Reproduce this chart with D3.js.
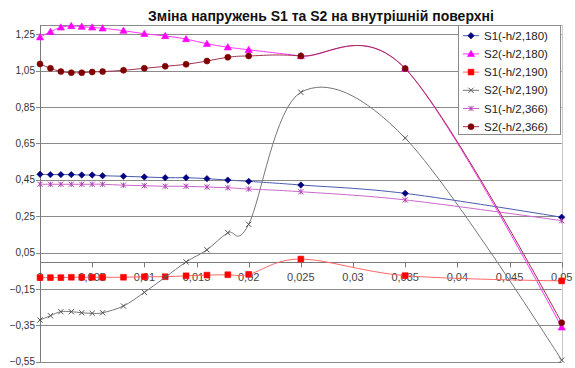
<!DOCTYPE html>
<html><head><meta charset="utf-8">
<script src="https://cdn.jsdelivr.net/npm/d3@7"></script>
<style>body{margin:0;background:#fff}svg{display:block}</style>
</head><body>
<script>
const xValues = [0, 0.001, 0.002, 0.003, 0.004, 0.005, 0.006, 0.008, 0.010, 0.012, 0.014, 0.016, 0.018, 0.020, 0.025, 0.035, 0.050];
const s1_180 = [0.481, 0.479, 0.479, 0.479, 0.477, 0.477, 0.473, 0.470, 0.466, 0.462, 0.462, 0.457, 0.449, 0.442, 0.422, 0.376, 0.245];
const s2_180 = [1.234, 1.264, 1.288, 1.296, 1.292, 1.288, 1.283, 1.270, 1.253, 1.241, 1.224, 1.198, 1.179, 1.165, 1.131, 1.062, -0.360];
const s1_190 = [-0.087, -0.087, -0.087, -0.085, -0.085, -0.085, -0.085, -0.085, -0.082, -0.082, -0.077, -0.073, -0.071, -0.069, 0.015, -0.076, -0.105];
const s2_190 = [-0.320, -0.296, -0.274, -0.274, -0.280, -0.283, -0.280, -0.243, -0.168, -0.085, -0.001, 0.066, 0.160, 0.206, 0.931, 0.680, -0.540];
const s1_366 = [0.426, 0.426, 0.426, 0.426, 0.426, 0.426, 0.426, 0.421, 0.418, 0.415, 0.415, 0.411, 0.407, 0.400, 0.385, 0.340, 0.226];
const s2_366 = [1.087, 1.063, 1.045, 1.039, 1.039, 1.043, 1.045, 1.052, 1.063, 1.074, 1.085, 1.103, 1.124, 1.131, 1.131, 1.062, -0.335];
const seriesNames = ["S1(-h/2,180)", "S2(-h/2,180)", "S1(-h/2,190)", "S2(-h/2,190)", "S1(-h/2,366)", "S2(-h/2,366)"];
const xTicks = [0, 0.005, 0.01, 0.015, 0.02, 0.025, 0.03, 0.035, 0.04, 0.045, 0.05];
const yTicks = [1.25, 1.05, 0.85, 0.65, 0.45, 0.25, 0.05, -0.15, -0.35, -0.55];
const title = "Зміна напружень S1 та S2 на внутрішній поверхні";

const series = [
  {name: seriesNames[0], values: s1_180, line: "#4a5ab0", mark: "#000080", marker: "diamond"},
  {name: seriesNames[1], values: s2_180, line: "#ff33ff", mark: "#ff00ff", marker: "triangle"},
  {name: seriesNames[2], values: s1_190, line: "#ff6666", mark: "#ff0000", marker: "square"},
  {name: seriesNames[3], values: s2_190, line: "#777777", mark: "#555555", marker: "x"},
  {name: seriesNames[4], values: s1_366, line: "#cc66cc", mark: "#b040b0", marker: "star"},
  {name: seriesNames[5], values: s2_366, line: "#a03050", mark: "#800000", marker: "circle"}
];

const W = 575, H = 368;
const svg = d3.select("body").append("svg").attr("width", W).attr("height", H)
  .style("font-family", "Arial, 'Liberation Sans', sans-serif");

const x = d3.scaleLinear().domain([0, 0.05]).range([40, 561.7]);
const y = d3.scaleLinear().domain([-0.55, 1.3]).range([361.9, 25.2]);
const fmt = v => (v === 0 ? "0" : d3.format("")(+v.toFixed(3))).replace(".", ",");

// gridlines
svg.append("g").selectAll("line").data(yTicks).join("line")
  .attr("x1", x(0) - 4).attr("x2", x(0.05))
  .attr("y1", d => Math.round(y(d)) + 0.5).attr("y2", d => Math.round(y(d)) + 0.5)
  .attr("stroke", "#8a8a8a").attr("stroke-width", 1);
// plot border top/right
svg.append("line").attr("x1", x(0)).attr("x2", x(0.05)).attr("y1", Math.round(y(1.3)) + 0.5).attr("y2", Math.round(y(1.3)) + 0.5).attr("stroke", "#8a8a8a");
svg.append("line").attr("x1", Math.round(x(0.05)) + 0.5).attr("x2", Math.round(x(0.05)) + 0.5).attr("y1", y(1.3)).attr("y2", y(-0.55)).attr("stroke", "#c8c8c8");
// y axis
svg.append("line").attr("x1", Math.round(x(0)) + 0.5).attr("x2", Math.round(x(0)) + 0.5).attr("y1", y(1.3)).attr("y2", y(-0.55)).attr("stroke", "#7a7a7a");
svg.append("g").selectAll("text").data(yTicks).join("text")
  .attr("x", 35).attr("y", d => y(d)).attr("dy", "0.35em").attr("text-anchor", "end")
  .attr("font-size", 10).attr("fill", "#333").text(d => fmt(d));
// x axis at 0
const y0 = Math.round(y(0)) + 0.5;
svg.append("line").attr("x1", x(0)).attr("x2", x(0.05)).attr("y1", y0).attr("y2", y0).attr("stroke", "#7a7a7a");
svg.append("g").selectAll("line").data(xTicks).join("line")
  .attr("x1", d => Math.round(x(d)) + 0.5).attr("x2", d => Math.round(x(d)) + 0.5)
  .attr("y1", y0).attr("y2", y0 + 5).attr("stroke", "#7a7a7a");
svg.append("g").selectAll("text").data(xTicks).join("text")
  .attr("x", d => x(d)).attr("y", y0 + 15).attr("dy", "0.35em").attr("text-anchor", "middle")
  .attr("font-size", 11).attr("fill", "#444").text(d => fmt(d));

function markerPath(type, r) {
  switch (type) {
    case "diamond": return `M0,${-r}L${r},0L0,${r}L${-r},0Z`;
    case "triangle": return `M0,${-r}L${r},${r*0.75}L${-r},${r*0.75}Z`;
    case "square": return `M${-r},${-r}H${r}V${r}H${-r}Z`;
    case "x": return `M${-r},${-r}L${r},${r}M${-r},${r}L${r},${-r}`;
    case "star": return `M${-r},${-r}L${r},${r}M${-r},${r}L${r},${-r}M0,${-r}V${r}`;
    case "circle": return d3.symbol(d3.symbolCircle, Math.PI * r * r)();
  }
}
const sizes = {diamond: 3.2, triangle: 3.6, square: 2.9, x: 2.6, star: 2.6, circle: 3};
function drawMarker(g, s, cx, cy) {
  const open = s.marker === "x" || s.marker === "star";
  g.append("path").attr("d", markerPath(s.marker, sizes[s.marker]))
    .attr("transform", `translate(${cx},${cy})`)
    .attr("fill", open ? "none" : s.mark)
    .attr("stroke", s.mark).attr("stroke-width", open ? 1 : 0.6);
}

const lineGen = d3.line().x(d => x(d[0])).y(d => y(d[1])).curve(d3.curveCardinal.tension(0));
series.forEach(s => {
  const pts = xValues.map((xv, i) => [xv, s.values[i]]);
  const g = svg.append("g");
  g.append("path").attr("d", lineGen(pts)).attr("fill", "none").attr("stroke", s.line).attr("stroke-width", 1);
  pts.forEach(p => drawMarker(g, s, x(p[0]), y(p[1])));
});

// legend
const lg = svg.append("g");
lg.append("rect").attr("x", 458.5).attr("y", 25.5).attr("width", 102).attr("height", 109)
  .attr("fill", "#fff").attr("stroke", "#8a8a8a");
series.forEach((s, i) => {
  const cy = 35.7 + i * 18.2;
  lg.append("line").attr("x1", 463).attr("x2", 479).attr("y1", cy).attr("y2", cy).attr("stroke", s.line).attr("stroke-width", 1);
  drawMarker(lg, s, 471, cy);
  lg.append("text").attr("x", 484).attr("y", cy).attr("dy", "0.35em").attr("font-size", 11.5).attr("fill", "#222").text(s.name);
});

// title
svg.append("text").attr("x", 148).attr("y", 20.5).attr("font-size", 14).attr("font-weight", "bold").attr("fill", "#111").text(title);
</script>
</body></html>
